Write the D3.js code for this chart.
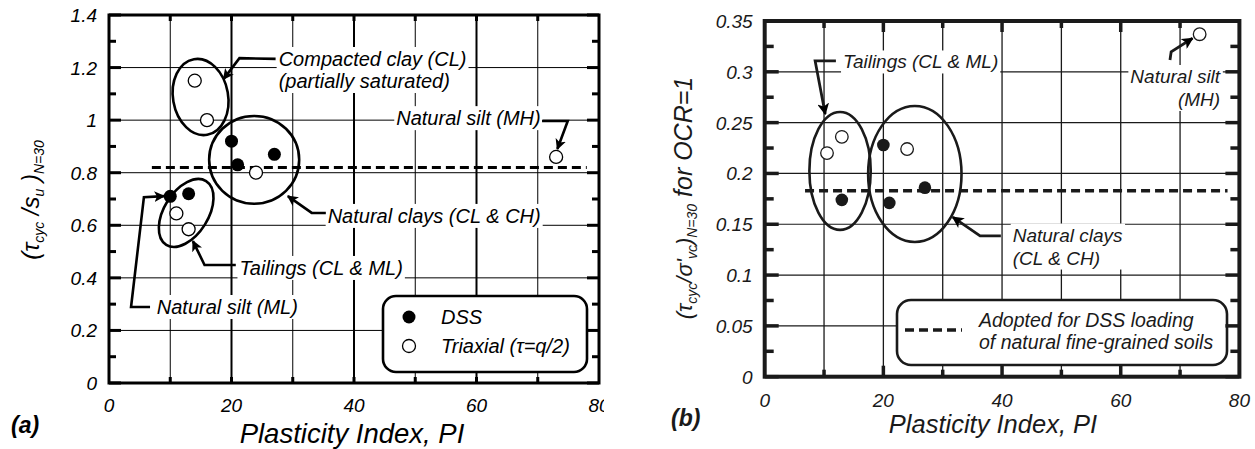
<!DOCTYPE html>
<html>
<head>
<meta charset="utf-8">
<script src="https://cdn.jsdelivr.net/npm/d3@7"></script>
<style>
  body { margin: 0; background: #fff; }
  text { font-family: "Liberation Sans", Arial, sans-serif; font-style: italic; }
</style>
</head>
<body>
<svg id="fig" width="1255" height="449"></svg>
<script>
// ---------- data ----------
const piTicks = [0, 20, 40, 60, 80];

// (a) cyclic strength ratio tau_cyc/s_u at N=30
const ratioTicksA = [0, 0.2, 0.4, 0.6, 0.8, 1, 1.2, 1.4];
const dssPIA = [10, 13, 20, 21, 27];
const dssRatioA = [0.71, 0.72, 0.92, 0.83, 0.87];
const triPIA = [14, 16, 24, 11, 13, 73];
const triRatioA = [1.15, 1.0, 0.80, 0.645, 0.585, 0.86];
const adoptedA = 0.82;

// soil-group envelopes for (a): centre, half-widths (PI, ratio units), tilt
const groupCxA = [14.95, 23.7, 12.6];
const groupCyA = [1.088, 0.849, 0.647];
const groupRxA = [4.5, 7.35, 3.6];
const groupRyA = [0.146, 0.167, 0.143];
const groupTiltA = [-10, 0, 32];

// (b) cyclic stress ratio tau_cyc/sigma'_vc at N=30, OCR=1
const ratioTicksB = [0, 0.05, 0.1, 0.15, 0.2, 0.25, 0.3, 0.35];
const dssPIB = [13, 20, 21, 27];
const dssRatioB = [0.174, 0.228, 0.171, 0.186];
const triPIB = [10.5, 13, 24, 73.3];
const triRatioB = [0.22, 0.236, 0.224, 0.337];
const adoptedB = 0.183;

const groupCxB = [12.7, 25.3];
const groupCyB = [0.2025, 0.1995];
const groupRxB = [5.17, 7.87];
const groupRyB = [0.058, 0.0669];
const groupTiltB = [0, 0];

// callout labels (anchored in data units) with their leader paths
const notesA = [
  { lines: ["Compacted clay (CL)", "(partially saturated)"], at: [27.7, 1.206], anchor: "start",
    path: [[27.2, 1.233], [21.3, 1.236], [18.7, 1.156]] },
  { lines: ["Natural silt (MH)"], at: [46.9, 0.981], anchor: "start",
    path: [[70.7, 0.997], [74.9, 0.997], [73.2, 0.89]] },
  { lines: ["Natural clays (CL & CH)"], at: [35.7, 0.609], anchor: "start",
    path: [[35.4, 0.647], [33.1, 0.647], [29.2, 0.711]] },
  { lines: ["Tailings (CL & ML)"], at: [21.3, 0.411], anchor: "start",
    path: [[20.7, 0.449], [15.6, 0.449], [13.7, 0.54]] },
  { lines: ["Natural silt (ML)"], at: [7.8, 0.2625], anchor: "start",
    path: [[6.7, 0.289], [3.6, 0.289], [5.7, 0.707], [9.0, 0.711]] }
];
const notesB = [
  { lines: ["Tailings (CL & ML)"], at: [13.2, 0.3033], anchor: "start",
    path: [[12.0, 0.3107], [8.5, 0.3107], [10.2, 0.2585]] },
  { lines: ["Natural silt", "(MH)"], at: [76.75, 0.289], anchor: "end",
    path: [[68.3, 0.3117], [68.5, 0.3196], [72.1, 0.333]] },
  { lines: ["Natural clays", "(CL & CH)"], at: [41.8, 0.133], anchor: "start",
    path: [[39.8, 0.1385], [36.3, 0.1385], [31.7, 0.157]] }
];

// ---------- drawing ----------
const svg = d3.select("#fig");
const defs = svg.append("defs");
defs.append("marker")
  .attr("id", "head").attr("viewBox", "0 0 10 10")
  .attr("refX", 9).attr("refY", 5)
  .attr("markerWidth", 4.2).attr("markerHeight", 4.2)
  .attr("markerUnits", "strokeWidth").attr("orient", "auto")
  .append("path").attr("d", "M0,0 L10,5 L0,10 L2.5,5 Z").attr("fill", "#000");
defs.append("clipPath").attr("id", "clipA")
  .append("rect").attr("x", 0).attr("y", 0).attr("width", 604).attr("height", 449);
defs.append("clipPath").attr("id", "clipB")
  .append("rect").attr("x", 606).attr("y", 0).attr("width", 645).attr("height", 449);

function drawPanel(o) {
  const root = svg.append("g").attr("clip-path", `url(#${o.clip})`);
  const x = d3.scaleLinear().domain([0, 80]).range([o.left, o.right]);
  const y = d3.scaleLinear().domain([0, o.yMax]).range([o.bottom, o.top]);
  const ink = o.ink;

  // horizontal grid
  const grid = root.append("g");
  grid.selectAll("line").data(o.yTicks.slice(1, -1)).join("line")
    .attr("x1", o.left).attr("x2", o.right)
    .attr("y1", d => y(d)).attr("y2", d => y(d))
    .attr("stroke", ink).attr("stroke-width", o.hGridW);

  // vertical grid
  grid.append("g").selectAll("line").data(d3.range(10, 80, 10)).join("line")
    .attr("x1", d => x(d)).attr("x2", d => x(d))
    .attr("y1", o.top).attr("y2", o.bottom)
    .attr("stroke", ink).attr("stroke-width", d => d % 20 === 0 ? o.vGridMajorW : o.vGridW);

  // callout labels on white patches (they interrupt the grid)
  const labels = root.append("g");
  o.notes.forEach(n => {
    const t = labels.append("text")
      .attr("text-anchor", n.anchor)
      .style("font-size", o.noteSize + "px").attr("fill", ink);
    n.lines.forEach((s, i) => t.append("tspan")
      .attr("x", x(n.at[0])).attr("y", y(n.at[1]) + i * o.noteLead).text(s));
    const bb = t.node().getBBox();
    labels.insert("rect", () => t.node())
      .attr("x", bb.x - 2).attr("y", bb.y - 1)
      .attr("width", bb.width + 4).attr("height", bb.height + 2)
      .attr("fill", "#fff");
  });

  // adopted design line
  root.append("line")
    .attr("x1", x(o.adoptFrom)).attr("x2", x(o.adoptTo))
    .attr("y1", y(o.adopted)).attr("y2", y(o.adopted))
    .attr("stroke", ink).attr("stroke-width", o.dashW)
    .attr("stroke-dasharray", o.dash);

  // soil-group envelopes
  o.groups.cx.forEach((cx, i) => {
    root.append("ellipse")
      .attr("cx", 0).attr("cy", 0)
      .attr("rx", x(o.groups.rx[i]) - x(0))
      .attr("ry", y(0) - y(o.groups.ry[i]))
      .attr("transform", `translate(${x(cx)},${y(o.groups.cy[i])}) rotate(${o.groups.tilt[i]})`)
      .attr("fill", "none").attr("stroke", ink).attr("stroke-width", o.ellW);
  });

  // leaders
  const line = d3.line().x(d => x(d[0])).y(d => y(d[1]));
  o.notes.forEach(n => {
    root.append("path").attr("d", line(n.path))
      .attr("fill", "none").attr("stroke", ink).attr("stroke-width", o.leaderW)
      .attr("stroke-linejoin", "miter").attr("marker-end", "url(#head)");
  });

  // data points
  root.append("g").selectAll("circle").data(o.triPI.map((p, i) => [p, o.triR[i]])).join("circle")
    .attr("cx", d => x(d[0])).attr("cy", d => y(d[1])).attr("r", o.r)
    .attr("fill", "#fff").attr("stroke", ink).attr("stroke-width", 1.3);
  root.append("g").selectAll("circle").data(o.dssPI.map((p, i) => [p, o.dssR[i]])).join("circle")
    .attr("cx", d => x(d[0])).attr("cy", d => y(d[1])).attr("r", o.r)
    .attr("fill", ink);

  // legend
  o.legend(root);

  // ticks, drawn as small filled bars on the inside of the frame
  const tk = root.append("g").attr("fill", ink);
  const hw = o.tickW / 2;
  const yMinor = d3.range(0, o.yMax + 1e-9, o.yMinorStep);
  tk.selectAll("rect.yl").data(yMinor).join("rect").attr("class", "yl")
    .attr("x", o.left).attr("y", d => y(d) - hw)
    .attr("width", (d, i) => i % 2 === 0 ? o.yMajorLen : o.yMinorLen).attr("height", o.tickW);
  tk.selectAll("rect.yr").data(yMinor).join("rect").attr("class", "yr")
    .attr("x", (d, i) => o.right - (i % 2 === 0 ? o.yMajorLen : o.yMinorLen)).attr("y", d => y(d) - hw)
    .attr("width", (d, i) => i % 2 === 0 ? o.yMajorLen : o.yMinorLen).attr("height", o.tickW);
  const xs = d3.range(10, 80, 10);
  const xLen = d => d % 20 === 0 ? o.xMajorLen : o.xMinorLen;
  tk.selectAll("rect.xt").data(xs).join("rect").attr("class", "xt")
    .attr("x", d => x(d) - hw).attr("y", o.top).attr("width", o.tickW).attr("height", xLen);
  tk.selectAll("rect.xb").data(xs).join("rect").attr("class", "xb")
    .attr("x", d => x(d) - hw).attr("y", d => o.bottom - xLen(d)).attr("width", o.tickW).attr("height", xLen);

  // frame
  root.append("rect")
    .attr("x", o.left).attr("y", o.top)
    .attr("width", o.right - o.left).attr("height", o.bottom - o.top)
    .attr("fill", "none").attr("stroke", ink).attr("stroke-width", o.frameW);

  // tick labels
  root.append("g").selectAll("text").data(o.yTicks).join("text")
    .attr("x", o.left - 12).attr("y", d => y(d) + 7)
    .attr("text-anchor", "end").style("font-size", o.tickSize + "px").attr("fill", ink)
    .text(d => String(d));
  root.append("g").selectAll("text").data(piTicks).join("text")
    .attr("x", d => x(d)).attr("y", o.xLabelY)
    .attr("text-anchor", "middle").style("font-size", o.tickSize + "px").attr("fill", ink)
    .text(d => String(d));

  // axis title and panel tag
  root.append("text")
    .attr("x", o.xTitleX).attr("y", o.xTitleY).attr("text-anchor", "middle")
    .style("font-size", o.xTitleSize + "px").attr("fill", ink)
    .text("Plasticity Index, PI");
  root.append("text")
    .attr("x", o.tagX).attr("y", o.tagY)
    .style("font-size", "23px").style("font-weight", "bold").attr("fill", ink)
    .text(o.tag);

  o.yTitle(root);
}

// ----- panel (a) -----
drawPanel({
  clip: "clipA", ink: "#000",
  left: 109, right: 599, top: 15, bottom: 383, yMax: 1.4, yMinorStep: 0.1,
  yTicks: ratioTicksA,
  hGridW: 1, vGridW: 1, vGridMajorW: 2,
  notes: notesA, noteSize: 20, noteLead: 22,
  adopted: adoptedA, adoptFrom: 7, adoptTo: 78, dashW: 3, dash: "9,5",
  groups: { cx: groupCxA, cy: groupCyA, rx: groupRxA, ry: groupRyA, tilt: groupTiltA },
  ellW: 2.6, leaderW: 2.6,
  dssPI: dssPIA, dssR: dssRatioA, triPI: triPIA, triR: triRatioA, r: 6.5,
  tickW: 3, yMajorLen: 12, yMinorLen: 7, xMajorLen: 6, xMinorLen: 6,
  frameW: 3, tickSize: 19, xLabelY: 412,
  xTitleX: 352, xTitleY: 443, xTitleSize: 27.5,
  tag: "(a)", tagX: 11, tagY: 433,
  legend: (g) => {
    const lg = g.append("g");
    lg.append("rect").attr("x", 383).attr("y", 296).attr("width", 204).attr("height", 76)
      .attr("rx", 13).attr("fill", "#fff").attr("stroke", "#000").attr("stroke-width", 2.6);
    lg.append("circle").attr("cx", 409).attr("cy", 317).attr("r", 6.5).attr("fill", "#000");
    lg.append("circle").attr("cx", 409).attr("cy", 346).attr("r", 6.5)
      .attr("fill", "#fff").attr("stroke", "#000").attr("stroke-width", 1.3);
    lg.append("text").attr("x", 441).attr("y", 324).style("font-size", "20px").text("DSS");
    lg.append("text").attr("x", 441).attr("y", 353).style("font-size", "20px").text("Triaxial (τ=q/2)");
  },
  yTitle: (g) => {
    const t = g.append("text").attr("transform", "translate(39,200) rotate(-90)")
      .attr("text-anchor", "middle").style("font-size", "24px").attr("fill", "#000");
    t.append("tspan").text("(τ");
    t.append("tspan").attr("dy", 5).style("font-size", "14px").text("cyc");
    t.append("tspan").attr("dy", -5).text(" /s");
    t.append("tspan").attr("dy", 5).style("font-size", "14px").text("u");
    t.append("tspan").attr("dy", -5).text(" )");
    t.append("tspan").attr("dy", 5).style("font-size", "14px").text("N=30");
  }
});

// ----- panel (b) -----
drawPanel({
  clip: "clipB", ink: "#1a1a1a",
  left: 764.7, right: 1239.4, top: 21, bottom: 376.7, yMax: 0.35, yMinorStep: 0.025,
  yTicks: ratioTicksB,
  hGridW: 1.2, vGridW: 1.3, vGridMajorW: 1.3,
  notes: notesB, noteSize: 19, noteLead: 23,
  adopted: adoptedB, adoptFrom: 6.8, adoptTo: 78, dashW: 3.5, dash: "9,5",
  groups: { cx: groupCxB, cy: groupCyB, rx: groupRxB, ry: groupRyB, tilt: groupTiltB },
  ellW: 2.6, leaderW: 2.8,
  dssPI: dssPIB, dssR: dssRatioB, triPI: triPIB, triR: triRatioB, r: 6.3,
  tickW: 3.5, yMajorLen: 14, yMinorLen: 9, xMajorLen: 11, xMinorLen: 7,
  frameW: 4, tickSize: 19, xLabelY: 407,
  xTitleX: 993, xTitleY: 433, xTitleSize: 25.5,
  tag: "(b)", tagX: 671, tagY: 426,
  legend: (g) => {
    const lg = g.append("g");
    lg.append("rect").attr("x", 897).attr("y", 300).attr("width", 330).attr("height", 65)
      .attr("rx", 14).attr("fill", "#fff").attr("stroke", "#1a1a1a").attr("stroke-width", 2.6);
    lg.append("line").attr("x1", 905).attr("x2", 962).attr("y1", 330).attr("y2", 330)
      .attr("stroke", "#1a1a1a").attr("stroke-width", 3.5).attr("stroke-dasharray", "9,5");
    lg.append("text").attr("x", 979).attr("y", 327).style("font-size", "19.5px").attr("fill", "#1a1a1a")
      .text("Adopted for DSS loading");
    lg.append("text").attr("x", 979).attr("y", 349).style("font-size", "19.5px").attr("fill", "#1a1a1a")
      .text("of natural fine-grained soils");
  },
  yTitle: (g) => {
    const t = g.append("text").attr("transform", "translate(692,198) rotate(-90)")
      .attr("text-anchor", "middle").style("font-size", "22px").attr("fill", "#1a1a1a");
    t.append("tspan").text("(τ");
    t.append("tspan").attr("dy", 5).style("font-size", "14px").text("cyc");
    t.append("tspan").attr("dy", -5).text("/σ'");
    t.append("tspan").attr("dy", 5).style("font-size", "14px").text("vc");
    t.append("tspan").attr("dy", -5).text(")");
    t.append("tspan").attr("dy", 5).style("font-size", "14px").text("N=30");
    t.append("tspan").attr("dy", -5).style("font-size", "25px").text("   for OCR=1");
  }
});
</script>
</body>
</html>
